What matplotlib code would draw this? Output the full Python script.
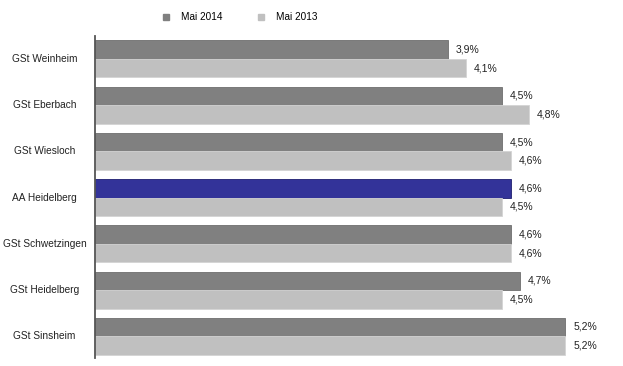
import numpy as np
import matplotlib.pyplot as plt
from matplotlib.lines import Line2D

plt.rcParams['font.family'] = ['Liberation Sans', 'DejaVu Sans']

# Daten
categories = ["GSt Weinheim", "GSt Eberbach", "GSt Wiesloch", "AA Heidelberg",
              "GSt Schwetzingen", "GSt Heidelberg", "GSt Sinsheim"]
mai2014 = [3.9, 4.5, 4.5, 4.6, 4.6, 4.7, 5.2]
mai2013 = [4.1, 4.8, 4.6, 4.5, 4.6, 4.5, 5.2]
highlight = "AA Heidelberg"

dark = "#808080"
light = "#c0c0c0"
blue = "#333399"

fig = plt.figure(figsize=(6.23, 3.66), dpi=100)
ax = fig.add_axes([0.1525, 0.022, 0.81, 0.880])

y = np.arange(len(categories))
h = 0.4
colors14 = [blue if c == highlight else dark for c in categories]
edges14 = ["#1f1f70" if c == highlight else "#6e6e6e" for c in categories]
ax.barh(y - h / 2, mai2014, height=h, color=colors14, edgecolor=edges14, linewidth=0.6)
ax.barh(y + h / 2, mai2013, height=h, color=light, edgecolor="#d4d4d4", linewidth=0.6)

# Werte
for i in range(len(categories)):
    ax.text(mai2014[i] + 0.09, y[i] - h / 2, f"{mai2014[i]:.1f}%".replace(".", ","),
            va="center", ha="left", fontsize=7.5, color="#222222")
    ax.text(mai2013[i] + 0.09, y[i] + h / 2, f"{mai2013[i]:.1f}%".replace(".", ","),
            va="center", ha="left", fontsize=7.5, color="#222222")

# Kategorien
for i, c in enumerate(categories):
    ax.text(-0.1, y[i], c, transform=ax.get_yaxis_transform(),
            ha="center", va="center", fontsize=7.3, color="#222222")

ax.set_xlim(0, 5.58)
ax.set_ylim(6.47, -0.5)
ax.set_xticks([])
ax.set_yticks([])
for s in ["top", "right", "bottom"]:
    ax.spines[s].set_visible(False)
ax.spines["left"].set_color("#555555")
ax.spines["left"].set_linewidth(1.3)

handles = [Line2D([], [], marker="s", linestyle="none", markersize=4.5, color=dark),
           Line2D([], [], marker="s", linestyle="none", markersize=4.5, color=light)]
fig.legend(handles, ["Mai 2014", "Mai 2013"], loc="center", bbox_to_anchor=(0.38, 0.953),
           ncol=2, frameon=False, fontsize=7.2, handletextpad=0.5, columnspacing=2.9)

plt.savefig("out.png", dpi=100)
